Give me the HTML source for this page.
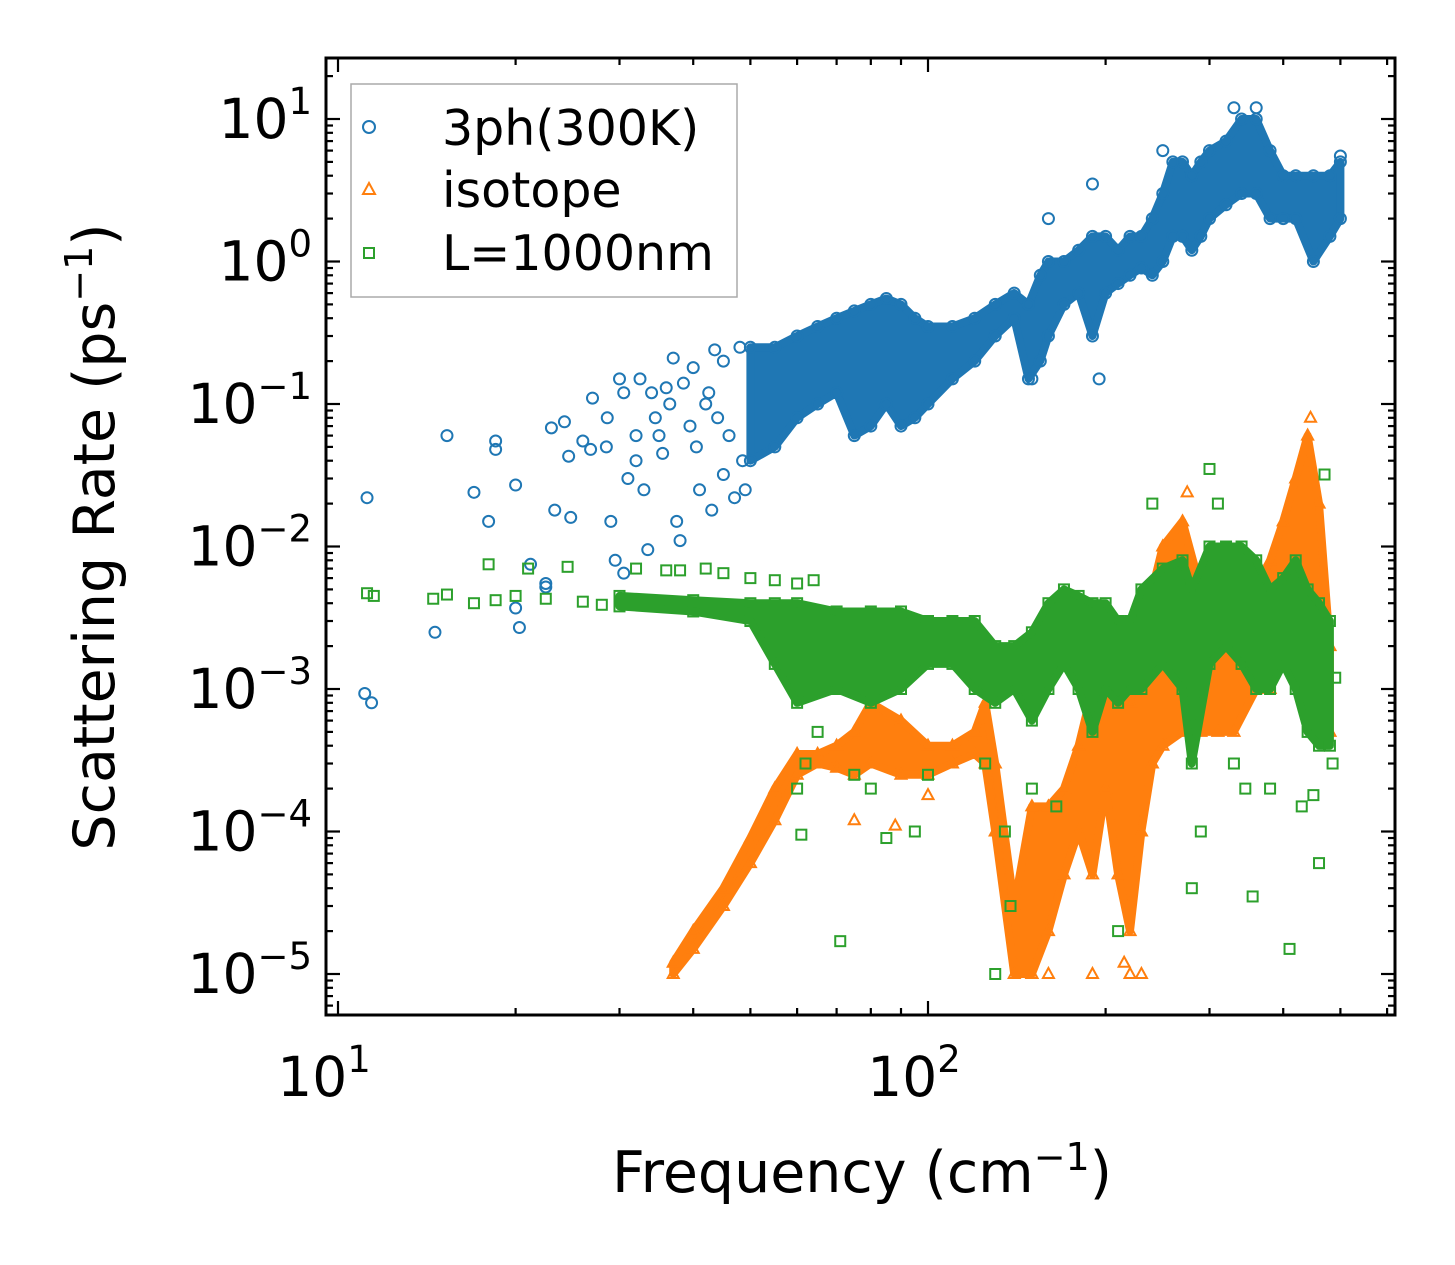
<!DOCTYPE html>
<html><head><meta charset="utf-8">
<style>
html,body{margin:0;padding:0;background:#fff;}
svg{display:block;font-family:"DejaVu Sans","Liberation Sans",sans-serif;}
</style></head>
<body>
<svg id="chart" width="1455" height="1265" viewBox="0 0 1455 1265" xmlns="http://www.w3.org/2000/svg">
<rect width="1455" height="1265" fill="#fff"/>
<g id="marks"></g>
<g id="axes"></g>
<g>
<rect x="351" y="84" width="386" height="213" fill="#fff" fill-opacity="0.8" stroke="#aaa" stroke-width="1.5"/>
<circle cx="369" cy="127" r="6" fill="none" stroke="#1f77b4" stroke-width="2"/>
<text x="442" y="145" font-size="49">3ph(300K)</text>
<path d="M369,183 L375,194 L363,194 Z" fill="none" stroke="#ff7f0e" stroke-width="2"/>
<text x="442" y="207" font-size="49">isotope</text>
<rect x="364" y="248" width="10" height="10" fill="none" stroke="#2ca02c" stroke-width="2"/>
<text x="442" y="270" font-size="49">L=1000nm</text>
</g>
<text x="862" y="1192" font-size="57" text-anchor="middle">Frequency (cm<tspan font-size="38" dy="-22">−1</tspan><tspan dy="22">)</tspan></text>
<text transform="translate(114,537) rotate(-90)" font-size="57" text-anchor="middle">Scattering Rate (ps<tspan font-size="38" dy="-22">−1</tspan><tspan dy="22">)</tspan></text>
</svg>
<script>
// ---- data ----
const blueEnvFreq = [50,55,60,65,70,75,80,85,90,95,100,110,120,130,140,148,155,160,170,180,190,200,210,220,230,240,250,260,270,280,290,300,320,340,360,380,400,420,450,480,500];
const blueEnvLo   = [0.04,0.05,0.08,0.1,0.12,0.06,0.07,0.1,0.07,0.08,0.1,0.15,0.2,0.3,0.4,0.15,0.2,0.3,0.5,0.6,0.3,0.6,0.7,0.8,0.9,0.8,1,1.5,1.5,1.2,1.5,2,2.5,3,3,2,2,2,1,1.5,2];
const blueEnvHi   = [0.25,0.25,0.3,0.35,0.4,0.45,0.5,0.55,0.5,0.4,0.35,0.35,0.4,0.5,0.6,0.5,0.8,1.0,1.0,1.2,1.5,1.5,1.2,1.5,1.5,2,3,5,5,4,5,6,7,10,10,6,4,4,4,4,5];
const blueFreq = [11.2,11.1,11.4,15.3,14.6,17,18,18.5,18.5,20,20,20.3,21.2,22.5,22.5,23,23.3,24.2,24.6,24.8,26,26.8,27,28.5,28.6,29,29.5,30,30.5,30.5,31,32,32,32.5,33,33.5,34,34.5,35,35.5,36,36.5,37,37.5,38,38.5,39.5,40,40.5,41,42,42.5,43,43.5,44,45,45,46,47,48,48.5,49,190,195,250,330,360,500,150,160];
const blueVal  = [0.022,9.3e-4,8e-4,0.06,2.5e-3,0.024,0.015,0.055,0.048,0.027,3.7e-3,2.7e-3,7.5e-3,5.5e-3,5.2e-3,0.068,0.018,0.075,0.043,0.016,0.055,0.048,0.11,0.05,0.08,0.015,8e-3,0.15,0.12,6.5e-3,0.03,0.06,0.04,0.15,0.025,9.5e-3,0.12,0.08,0.06,0.045,0.13,0.1,0.21,0.015,0.011,0.14,0.07,0.18,0.05,0.025,0.1,0.12,0.018,0.24,0.08,0.032,0.2,0.06,0.022,0.25,0.04,0.025,3.5,0.15,6,12,12,5.5,0.15,2];
const orangeEnvFreq = [37,40,45,50,55,60,65,70,75,80,90,100,110,120,125,130,140,150,160,170,180,190,200,210,220,230,240,250,270,290,310,330,360,380,400,420,440,460,480];
const orangeEnvLo   = [1e-5,1.5e-5,3e-5,6e-5,1.2e-4,2.5e-4,3e-4,2.8e-4,2.5e-4,3e-4,2.5e-4,2.5e-4,3e-4,3.5e-4,3e-4,1e-4,1e-5,1e-5,2e-5,5e-5,1e-4,5e-5,2e-4,5e-5,2e-5,1e-4,3e-4,4e-4,5e-4,5e-4,5e-4,5e-4,1e-3,1e-3,2e-3,3e-3,3e-3,1e-3,5e-4];
const orangeEnvHi   = [1.2e-5,2e-5,4e-5,9e-5,2e-4,3.5e-4,3.5e-4,4e-4,5e-4,8e-4,6e-4,4e-4,4e-4,5e-4,8e-4,3e-4,3e-5,1.5e-4,1.5e-4,2e-4,4e-4,1e-3,1e-3,1e-3,8e-4,2e-3,5e-3,1e-2,1.5e-2,5e-3,3e-3,2e-3,5e-3,8e-3,1.5e-2,3e-2,6e-2,2e-2,2e-3];
const orangeFreq = [75,88,100,190,230,325,275,445,150,160,215,220];
const orangeVal  = [1.2e-4,1.1e-4,1.8e-4,1e-5,1e-5,3e-3,2.4e-2,8e-2,1e-5,1e-5,1.2e-5,1e-5];
const greenEnvFreq = [30,40,50,55,60,70,80,90,100,110,120,130,140,150,160,170,180,190,200,210,220,230,250,270,280,300,320,340,360,380,400,420,440,460,480];
const greenEnvLo   = [3.8e-3,3.5e-3,3e-3,1.5e-3,8e-4,1e-3,8e-4,1e-3,1.5e-3,1.5e-3,1e-3,8e-4,1e-3,6e-4,1e-3,1.5e-3,1e-3,5e-4,1e-3,8e-4,1e-3,1e-3,1.5e-3,1e-3,3e-4,1.5e-3,2e-3,1.5e-3,1e-3,1e-3,1.5e-3,1e-3,5e-4,4e-4,4e-4];
const greenEnvHi   = [4.5e-3,4.2e-3,4e-3,4e-3,4e-3,3.5e-3,3.5e-3,3.5e-3,3e-3,3e-3,3e-3,2e-3,2e-3,2.5e-3,4e-3,5e-3,4.5e-3,4e-3,4e-3,3e-3,3e-3,5e-3,7e-3,8e-3,5e-3,1e-2,1e-2,1e-2,8e-3,5e-3,6e-3,8e-3,5e-3,4e-3,3e-3];
const greenFreq = [11.2,11.5,14.5,15.3,17,18,18.5,20,21,22.5,24.5,26,28,32,36,38,42,45,50,55,60,64,61,71,85,95,130,138,210,300,355,410,460,470,60,62,65,75,80,100,125,135,150,165,240,280,290,310,330,345,380,430,450,485,490];
const greenVal  = [4.7e-3,4.5e-3,4.3e-3,4.6e-3,4e-3,7.5e-3,4.2e-3,4.5e-3,7e-3,4.3e-3,7.2e-3,4.1e-3,3.9e-3,7e-3,6.8e-3,6.8e-3,7e-3,6.5e-3,6e-3,5.8e-3,5.5e-3,5.8e-3,9.5e-5,1.7e-5,9e-5,1e-4,1e-5,3e-5,2e-5,3.5e-2,3.5e-5,1.5e-5,6e-5,3.2e-2,2e-4,3e-4,5e-4,2.5e-4,2e-4,2.5e-4,3e-4,1e-4,2e-4,1.5e-4,2e-2,4e-5,1e-4,2e-2,3e-4,2e-4,2e-4,1.5e-4,1.8e-4,3e-4,1.2e-3];
const xTickVals = [10,100];
const xTickLabels = ["1","2"];
const yTickVals = [10,1,0.1,0.01,0.001,1e-4,1e-5];
const yTickLabels = ["1","0","−1","−2","−3","−4","−5"];

// ---- scales ----
const X0=326,X1=1395,Y0=58,Y1=1015;
const xs=v=>338+(Math.log10(v)-1)*590;
const ys=v=>119+(1-Math.log10(v))*142.5;
const NS="http://www.w3.org/2000/svg";
const marks=document.getElementById('marks');
const axes=document.getElementById('axes');
function mk(tag,attrs,parent){const e=document.createElementNS(NS,tag);for(const k in attrs)e.setAttribute(k,attrs[k]);parent.appendChild(e);return e;}

function envelope(fr,lo,hi,color,name){
  let d="M"+fr.map((f,i)=>xs(f).toFixed(1)+","+ys(hi[i]).toFixed(1)).join(" L");
  for(let i=fr.length-1;i>=0;i--) d+=" L"+xs(fr[i]).toFixed(1)+","+ys(lo[i]).toFixed(1);
  const p=mk('path',{d:d+" Z",fill:color,stroke:color,'stroke-width':8,'stroke-linejoin':'round'},marks);
  
  
}
function marker(type,x,y,color,name){
  let e;
  if(type==='c') e=mk('circle',{cx:x,cy:y,r:5.5,fill:'none',stroke:color,'stroke-width':2},marks);
  else if(type==='t') e=mk('path',{d:`M${x},${y-6} L${x+5.5},${y+4} L${x-5.5},${y+4} Z`,fill:'none',stroke:color,'stroke-width':2},marks);
  else e=mk('rect',{x:x-5,y:y-5,width:10,height:10,fill:'none',stroke:color,'stroke-width':2},marks);
  
  
}
function series(type,fr,lo,hi,pf,pv,color,name){
  envelope(fr,lo,hi,color,name+'-band');
  fr.forEach((f,i)=>{marker(type,xs(f),ys(lo[i]),color,name+'-point');marker(type,xs(f),ys(hi[i]),color,name+'-point');});
  pf.forEach((f,i)=>marker(type,xs(f),ys(pv[i]),color,name+'-point'));
}
series('c',blueEnvFreq,blueEnvLo,blueEnvHi,blueFreq,blueVal,'#1f77b4','series-3ph');
series('t',orangeEnvFreq,orangeEnvLo,orangeEnvHi,orangeFreq,orangeVal,'#ff7f0e','series-isotope');
series('s',greenEnvFreq,greenEnvLo,greenEnvHi,greenFreq,greenVal,'#2ca02c','series-boundary');

// ---- axes ----
const frame=mk('rect',{x:X0,y:Y0,width:X1-X0,height:Y1-Y0,fill:'none',stroke:'#000','stroke-width':3},axes);


function tick(x1,y1,x2,y2){mk('line',{x1,y1,x2,y2,stroke:'#000','stroke-width':2.2},axes);}
for(let dec=1;dec<=100;dec*=10){for(let m=1;m<=9;m++){const v=dec*m;const x=xs(v);if(x<X0||x>X1)continue;const L=m===1?14:7;tick(x,Y1,x,Y1-L);tick(x,Y0,x,Y0+L);}}
xTickVals.forEach((v,i)=>{
  const t=mk('text',{x:xs(v)-14,y:1096,'font-size':55,'text-anchor':'middle'},axes);
  
  
  t.textContent='10';
  const s=mk('tspan',{'font-size':37,dy:-24},t);s.textContent=xTickLabels[i];
});
for(let e=-6;e<=1;e++){for(let m=1;m<=9;m++){const v=m*Math.pow(10,e);const y=ys(v);if(y<Y0||y>Y1)continue;const L=m===1?14:7;tick(X0,y,X0+L,y);tick(X1,y,X1-L,y);}}
yTickVals.forEach((v,i)=>{
  const t=mk('text',{x:312,y:ys(v)+19,'font-size':55,'text-anchor':'end'},axes);
  
  
  const a=mk('tspan',{},t);a.textContent='10';
  const s=mk('tspan',{'font-size':37,dy:-24},t);s.textContent=yTickLabels[i];
});
</script>
</body></html>
